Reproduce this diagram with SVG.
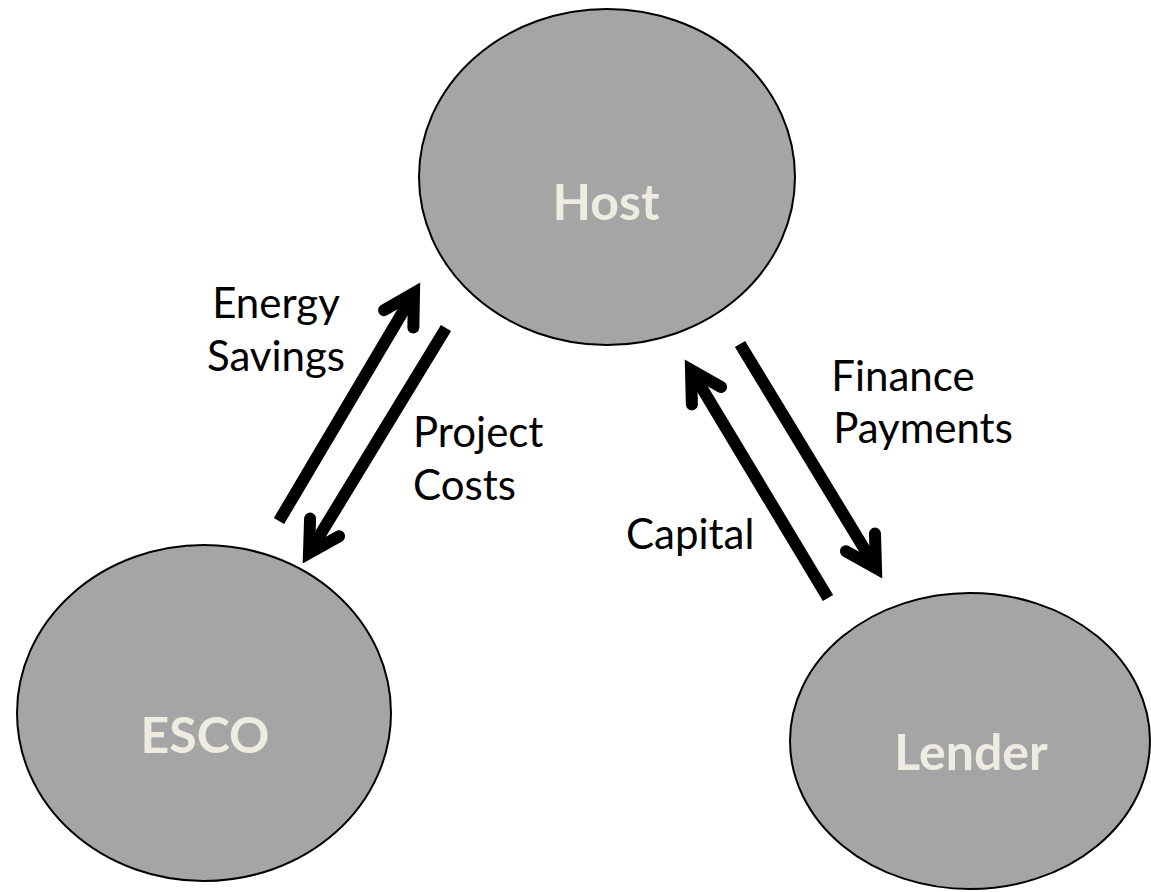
<svg xmlns="http://www.w3.org/2000/svg" width="1151" height="892" viewBox="0 0 1151 892">
  <style>
    .node { fill: #a5a5a5; stroke: #000; stroke-width: 2; }
    .node-label { font-family: Lato, "Open Sans", "Liberation Sans", sans-serif; font-weight: bold; font-size: 50px; fill: #eeece1; text-anchor: middle; }
    .flow { fill: none; stroke: #000; stroke-width: 12; stroke-linecap: butt; }
    .flow-label { font-family: Lato, "Open Sans", "Liberation Sans", sans-serif; font-size: 42px; fill: #000; }
  </style>
  <defs>
    <marker id="chevron" markerUnits="userSpaceOnUse" orient="auto" refX="0" refY="0" markerWidth="80" markerHeight="80" viewBox="-40 -40 80 80" overflow="visible">
      <path d="M -30,-17 L 0,0 L -30,17" fill="none" stroke="#000" stroke-width="12" stroke-linecap="round" stroke-linejoin="miter"/>
    </marker>
  </defs>
  <rect width="1151" height="892" fill="#fff"/>

  <g id="host">
    <ellipse class="node" cx="607" cy="177" rx="188" ry="168"/>
    <text class="node-label" x="606" y="220">Host</text>
  </g>
  <g id="esco">
    <ellipse class="node" cx="204" cy="713" rx="187" ry="168"/>
    <text class="node-label" x="205" y="753">ESCO</text>
  </g>
  <g id="lender">
    <ellipse class="node" cx="970" cy="741" rx="180" ry="148"/>
    <text class="node-label" x="971" y="770">Lender</text>
  </g>

  <g id="connectors">
    <line class="flow" x1="279" y1="521" x2="414" y2="293" marker-end="url(#chevron)"/>
    <line class="flow" x1="446" y1="328" x2="309" y2="553" marker-end="url(#chevron)"/>
    <line class="flow" x1="828" y1="598" x2="691" y2="370" marker-end="url(#chevron)"/>
    <line class="flow" x1="740" y1="344" x2="876" y2="568" marker-end="url(#chevron)"/>
  </g>

  <g id="labels">
    <text class="flow-label" text-anchor="middle" x="276" y="318">Energy</text>
    <text class="flow-label" text-anchor="middle" x="276" y="371">Savings</text>
    <text class="flow-label" x="413" y="447">Project</text>
    <text class="flow-label" x="413" y="500">Costs</text>
    <text class="flow-label" x="626" y="549">Capital</text>
    <text class="flow-label" text-anchor="middle" x="903" y="391">Finance</text>
    <text class="flow-label" text-anchor="middle" x="923" y="443">Payments</text>
  </g>
</svg>
